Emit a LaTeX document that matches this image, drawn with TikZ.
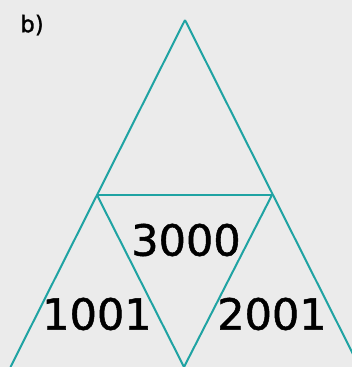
\documentclass[tikz,border=0pt]{standalone}
\usepackage{fontspec}
\setmainfont{DejaVu Sans}
\newfontfamily\numfont[FakeBold=1.2]{DejaVu Sans}
\definecolor{bg}{HTML}{EBEBEB}
\definecolor{tealline}{HTML}{1FA3A3}
\begin{document}
\begin{tikzpicture}[x=1pt,y=-1pt,
  edge/.style={draw=tealline,line width=2pt},
  num/.style={font=\numfont\fontsize{43}{43}\selectfont,inner sep=0pt,anchor=center}]
\fill[bg] (0,0) rectangle (352,367);
\useasboundingbox (0,0) rectangle (352,367);
\coordinate (apex) at (185,20);
\coordinate (ml) at (97,195);
\coordinate (mr) at (272,195);
\coordinate (bl) at (10.5,367);
\coordinate (bm) at (184,367);
\coordinate (br) at (359.5,367);
\begin{scope}
\clip (0,0) rectangle (352,367);
\draw[edge] (apex) -- (bl);
\draw[edge] (apex) -- (br);
\draw[edge] (ml) -- (mr);
\draw[edge] (ml) -- (bm) -- (mr);
\end{scope}
\node[font=\numfont\fontsize{23}{23}\selectfont,inner sep=0pt] (lab) at (32,25) {b)};
\node[num] (t) at (186,240) {3000};
\node[num] (l) at (97,314) {1001};
\node[num] (r) at (272,314) {2001};
\end{tikzpicture}
\end{document}
